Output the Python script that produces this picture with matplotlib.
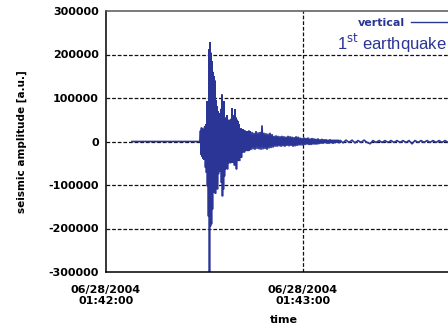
import numpy as np
import matplotlib
matplotlib.use("Agg")
import matplotlib.pyplot as plt

# ---- data (seconds after 06/28/2004 01:42:00, amplitude in thousands) ----
tick_seconds = [0, 60]
tick_labels = ["06/28/2004\n01:42:00", "06/28/2004\n01:43:00"]
y_ticks = [-300000, -200000, -100000, 0, 100000, 200000, 300000]

quiet_t = [7.9, 28.63]
quiet_v = [0, 0]

onset_start, onset_dt = 28.63, 0.152
onset_v = [0, 25, -30, 32, -35, 30, -40, 28, -42, 33]

burst_start, burst_dt = 30.15, 0.152
burst_v = [35, -60, 40, -72, 93, -103, 90, -172, 212, -305,
           228, -195, 204, -190, 185, -156, 160, -118, 150, -110,
           140, -120, 95, -100, 81, -110, 70, -75, 65, -70,
           60, -60, 75, -95, 108, -126, 90, -110, 93, -80]

decay_start, decay_dt = 36.24, 0.152
decay_v = [55, -64, 50, -60, 60, -64, 45, -50, 50, -48,
           45, -50, 52, -49, 77, -45, 60, -49, 57, -55,
           74, -50, 55, -64, 50, -45, 47, -40, 40, -45,
           27, -26, 30, -37, 25, -26, 28, -24, 26, -25,
           25, -22, 22, -20, 24, -22, 20, -22, 25, -20]

coda_start, coda_dt = 43.86, 0.3046
coda_v = [24, -19, 22, -18, 20, -19, 24, -17, 21, -18,
          22, -19, 37, -18, 20, -17, 19, -19, 18, -16,
          20, -15, 17, -14, 13, -12, 14, -12, 13, -11,
          12, -12, 13, -11, 12, -12, 11, -10, 13, -11,
          12, -10, 11, -12, 10, -11, 12, -10, 11, -9,
          9, -9, 8, -9, 9, -8, 8, -7, 9, -8,
          7, -8, 8, -7, 7, -7, 6, -7, 7, -6,
          5, -5, 6, -5, 5, -4, 5, -5, 4, -5,
          5, -4, 4, -5, 4, -4, 4, -3, 4, -4]

tail_start, tail_dt = 71.27, 0.914
tail_v = [3, -3, 3, -2, 3, -3, 2, -2, 3, -2,
          -5, 2, -2, 2, -2, 2, -2, 2, -2, 2,
          -2, 2, -2, 2, -5, 2, -2, 2, -2, 2,
          -2, 2, -2, 2, -2, 2, -2, 2, -2, 2,
          -2, 2, -2, 2, -2, 2]

segments = [(onset_start, onset_dt, onset_v), (burst_start, burst_dt, burst_v),
            (decay_start, decay_dt, decay_v), (coda_start, coda_dt, coda_v),
            (tail_start, tail_dt, tail_v)]

t = list(quiet_t)
v = list(quiet_v)
for s, dt, vals in segments:
    t += list(s + dt * np.arange(len(vals)))
    v += vals
t = np.array(t)
v = np.array(v) * 1000.0

blue = "#2b3596"
grid_kw = dict(color="#111111", lw=0.9, ls=(0, (3, 1.5)), zorder=0)

fig = plt.figure(figsize=(4.48, 3.30), dpi=100)
ax = fig.add_axes([106/448, 58/330, (462-106)/448, (272-11)/330])

ax.plot(t, v, color=blue, lw=1.2, label="vertical", solid_joinstyle="miter")

ax.set_xlim(0, (462-106)*0.30457)
ax.set_ylim(-300000, 300000)
ax.set_yticks(y_ticks)
ax.set_yticklabels([str(y) for y in y_ticks], fontsize=8, fontweight="bold")
ax.set_xticks(tick_seconds)
ax.set_xticklabels(tick_labels, fontsize=8, fontweight="bold", linespacing=1.25)
ax.tick_params(axis="both", length=0)
ax.tick_params(axis="y", pad=5)
ax.tick_params(axis="x", pad=9)

for yv in [-200000, -100000, 0, 100000, 200000]:
    ax.axhline(yv, **grid_kw)
ax.axvline(60, **grid_kw)

ax.spines["left"].set_linewidth(1.1)
ax.spines["bottom"].set_linewidth(1.1)
ax.spines["top"].set_color("#555555")
ax.spines["top"].set_linewidth(1.1)

ax.set_ylabel("seismic amplitude [a.u.]", fontsize=7.5, fontweight="bold")
ax.yaxis.set_label_coords((27-106)/(462-106), 0.5)
ax.set_xlabel("time", fontsize=8, fontweight="bold", labelpad=6)

leg = ax.legend(loc="center right", bbox_to_anchor=(447/448, 1-23/330),
                bbox_transform=fig.transFigure, frameon=False, markerfirst=False,
                handlelength=3.2, handletextpad=0.6, borderaxespad=0, borderpad=0,
                prop={"family": "DejaVu Sans", "weight": "bold", "size": 8})
for txt in leg.get_texts():
    txt.set_color(blue)
for h in leg.get_lines():
    h.set_linewidth(1.0)

fig.text(447/448, 1-43/330, "1$^{\\mathrm{st}}$ earthquake", ha="right", va="center",
         fontsize=12, color=blue, family="Liberation Sans")

fig.savefig("out.png", dpi=100)
